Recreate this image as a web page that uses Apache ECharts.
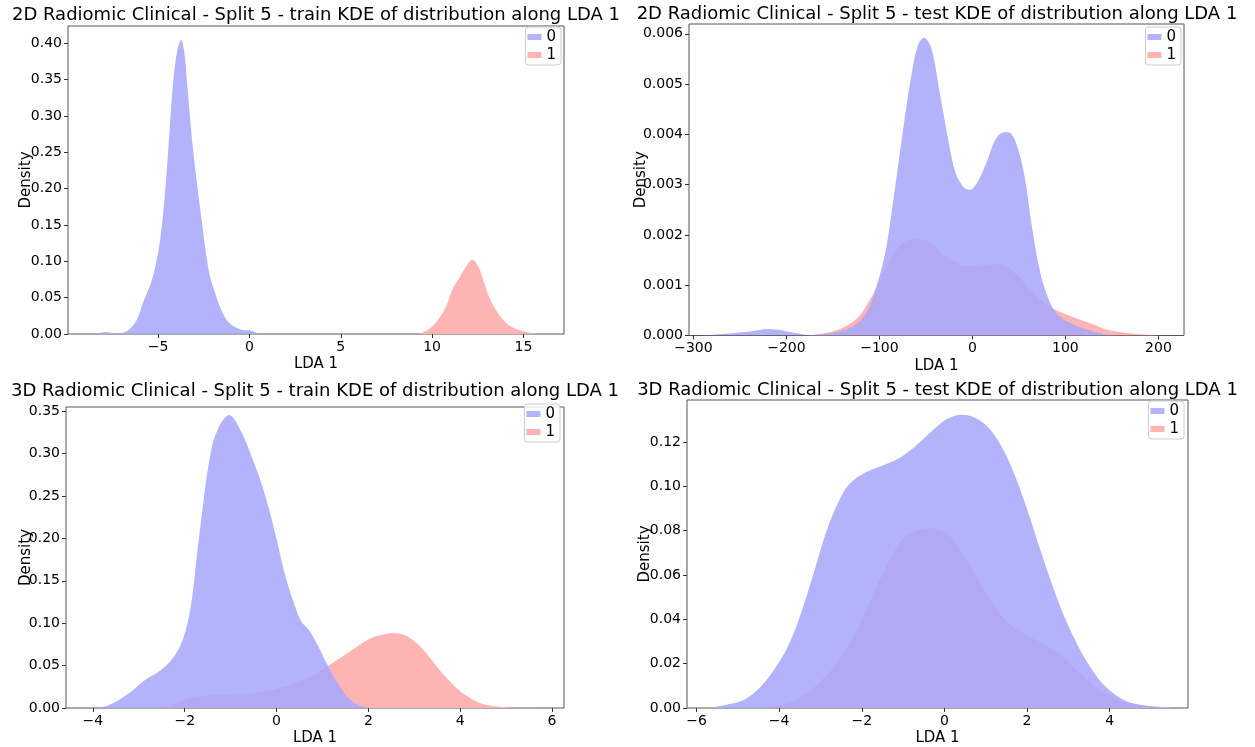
<!DOCTYPE html>
<html><head><meta charset="utf-8">
<script src="https://cdn.jsdelivr.net/npm/echarts@6/dist/echarts.min.js"></script>
<style>html,body{margin:0;padding:0;background:#fff}#c{width:1255px;height:747px}</style>
</head><body><div id="c"></div>
<script>
// ---- Titles / labels ----
const titles = [
  '2D Radiomic Clinical - Split 5 - train KDE of distribution along LDA 1',
  '2D Radiomic Clinical - Split 5 - test KDE of distribution along LDA 1',
  '3D Radiomic Clinical - Split 5 - train KDE of distribution along LDA 1',
  '3D Radiomic Clinical - Split 5 - test KDE of distribution along LDA 1'
];
const classNames = ['0', '1'];

// ---- Tick values ----
const p1_xticks = [-5, 0, 5, 10, 15];
const p1_yticks = [0, 0.05, 0.10, 0.15, 0.20, 0.25, 0.30, 0.35, 0.40];
const p2_xticks = [-300, -200, -100, 0, 100, 200];
const p2_yticks = [0, 0.001, 0.002, 0.003, 0.004, 0.005, 0.006];
const p3_xticks = [-4, -2, 0, 2, 4, 6];
const p3_yticks = [0, 0.05, 0.10, 0.15, 0.20, 0.25, 0.30, 0.35];
const p4_xticks = [-6, -4, -2, 0, 2, 4];
const p4_yticks = [0, 0.02, 0.04, 0.06, 0.08, 0.10, 0.12];

// ---- Panel 1: 2D train ----
const p1_x0 = [-8.6, -8.2, -7.9, -7.5, -7.1, -6.6, -6.16, -5.83, -5.28, -4.84, -4.51, -4.18, -3.95, -3.74, -3.55, -3.41, -3.08, -2.64, -2.2, -1.87, -1.54, -1.1, -0.44, 0, 0.44, 0.8];
const p1_y0 = [0, 0.001, 0.0027, 0.0015, 0.001, 0.006, 0.0197, 0.0426, 0.079, 0.139, 0.230, 0.345, 0.39, 0.4045, 0.385, 0.345, 0.253, 0.162, 0.084, 0.056, 0.033, 0.015, 0.006, 0.005, 0.0015, 0];
const p1_x1 = [9.3, 9.89, 10.33, 10.77, 11.1, 11.43, 11.87, 12.2, 12.53, 12.86, 13.19, 13.74, 14.29, 14.95, 15.7];
const p1_y1 = [0, 0.008, 0.0197, 0.038, 0.061, 0.0746, 0.093, 0.102, 0.093, 0.070, 0.047, 0.024, 0.0105, 0.004, 0];

// ---- Panel 2: 2D test ----
const p2_x0 = [-290, -244, -218, -193, -175, -158, -132, -115, -102, -93, -85, -76, -67, -59, -52, -44, -35, -26, -18, -9, -2.5, 6, 15, 23, 32, 38.5, 47, 56, 64, 73, 82, 90, 101, 123, 144, 165];
const p2_y0 = [0, 0.00007, 0.00013, 0.00006, 0.00001, 0.00003, 0.00015, 0.00042, 0.00105, 0.00171, 0.0027, 0.0039, 0.00502, 0.00575, 0.00592, 0.0057, 0.00482, 0.0039, 0.00323, 0.00294, 0.0029, 0.00307, 0.00343, 0.00383, 0.00403, 0.00404, 0.00383, 0.00317, 0.00217, 0.00125, 0.00072, 0.00045, 0.00029, 0.00012, 0.00002, 0];
const p2_x1 = [-178, -158, -141, -123, -110, -97.5, -84.6, -71.6, -58.6, -45.7, -32.7, -19.8, -6.8, 6.1, 23.4, 36.3, 49.3, 62.3, 75.3, 88.2, 101, 118, 131, 144, 166, 192, 205];
const p2_y1 = [0, 0.00005, 0.00014, 0.00036, 0.00072, 0.00115, 0.00162, 0.00188, 0.00192, 0.00185, 0.00164, 0.00148, 0.00138, 0.00138, 0.00142, 0.00138, 0.00118, 0.00091, 0.00068, 0.00052, 0.00042, 0.0003, 0.00022, 0.00012, 0.00005, 0.00001, 0];

// ---- Panel 3: 3D train ----
const p3_x0 = [-4.02, -3.67, -3.23, -2.88, -2.53, -2.27, -2.05, -1.87, -1.74, -1.61, -1.48, -1.31, -1.03, -0.78, -0.56, -0.35, -0.17, 0.01, 0.18, 0.36, 0.53, 0.71, 0.88, 1.06, 1.23, 1.41, 1.58, 1.8, 2.05];
const p3_y0 = [0, 0.003, 0.0168, 0.0325, 0.0442, 0.058, 0.0795, 0.119, 0.178, 0.236, 0.287, 0.325, 0.3455, 0.327, 0.299, 0.268, 0.236, 0.197, 0.158, 0.1266, 0.103, 0.0915, 0.0757, 0.056, 0.0384, 0.0227, 0.011, 0.003, 0];
const p3_x1 = [-2.75, -2.36, -1.92, -1.48, -1.05, -0.61, -0.17, 0.27, 0.71, 1.14, 1.58, 2.02, 2.37, 2.59, 2.81, 3.07, 3.33, 3.59, 3.86, 4.12, 4.47, 4.91, 5.52, 6.0];
const p3_y1 = [0, 0.003, 0.011, 0.0149, 0.016, 0.0174, 0.0207, 0.0266, 0.0364, 0.0502, 0.0659, 0.0815, 0.0874, 0.0882, 0.0855, 0.0757, 0.06, 0.0423, 0.0266, 0.0149, 0.005, 0.0013, 0.0002, 0];

// ---- Panel 4: 3D test ----
const p4_x0 = [-5.69, -5.2, -4.82, -4.43, -4.04, -3.75, -3.46, -3.16, -2.87, -2.58, -2.29, -1.9, -1.51, -1.13, -0.74, -0.35, 0.04, 0.43, 0.82, 1.2, 1.59, 1.98, 2.37, 2.76, 3.14, 3.54, 3.92, 4.41, 4.89, 5.28, 5.4];
const p4_y0 = [0, 0.0018, 0.004, 0.0099, 0.0196, 0.0292, 0.0433, 0.0611, 0.0789, 0.0923, 0.1012, 0.1063, 0.1093, 0.1123, 0.1175, 0.1241, 0.1301, 0.1323, 0.1301, 0.1234, 0.110, 0.0908, 0.0685, 0.0478, 0.0314, 0.0181, 0.0092, 0.003, 0.001, 0.0003, 0];
const p4_x1 = [-4.53, -4.04, -3.55, -3.07, -2.58, -2.1, -1.71, -1.32, -0.93, -0.35, 0.04, 0.43, 0.82, 1.2, 1.59, 1.98, 2.37, 2.76, 3.14, 3.54, 3.92, 4.41, 4.89, 5.38, 5.5];
const p4_y1 = [0, 0.001, 0.004, 0.0107, 0.0211, 0.0359, 0.0522, 0.067, 0.0774, 0.0811, 0.0789, 0.070, 0.0581, 0.0463, 0.0374, 0.0329, 0.0292, 0.0248, 0.0181, 0.0114, 0.0062, 0.0025, 0.001, 0.0003, 0];

// ---- Build chart ----
const FONT = 'DejaVu Sans';
const RED = '#ffb4b4';
const BLUE_FILL = 'rgba(168,168,251,0.87)';
const BLUE_LEG = '#b4b4fc';
const zip = (xs, ys) => xs.map((x, i) => [x, ys[i]]);
const minus = s => String(s).replace('-', '\u2212');

const panels = [
  {grid:{left:68, top:26, width:496, height:308}, xr:[-9.93, 17.22], yr:[0, 0.4238], xt:p1_xticks, yt:p1_yticks, yd:2,
   title:[316, 15.5], legend:{right:694, top:27}, yGap:34, d:[p1_x0,p1_y0,p1_x1,p1_y1]},
  {grid:{left:689, top:24, width:495, height:311.5}, xr:[-304.7, 227.5], yr:[0, 0.006195], xt:p2_xticks, yt:p2_yticks, yd:3,
   title:[937, 14], legend:{right:74, top:27}, yGap:40, d:[p2_x0,p2_y0,p2_x1,p2_y1]},
  {grid:{left:66, top:407, width:498, height:302}, xr:[-4.586, 6.26], yr:[0, 0.355], xt:p3_xticks, yt:p3_yticks, yd:2,
   title:[315, 391.5], legend:{right:695, top:404}, yGap:32, d:[p3_x0,p3_y0,p3_x1,p3_y1]},
  {grid:{left:687, top:400, width:501, height:312}, xr:[-6.23, 5.895], yr:[0, 0.1389], xt:p4_xticks, yt:p4_yticks, yd:2,
   title:[937.5, 390], legend:{right:71, top:401}, yGap:34.5, d:[p4_x0,p4_y0,p4_x1,p4_y1]}
];

const option = {
  animation: false,
  backgroundColor: '#fff',
  textStyle: {fontFamily: FONT},
  title: [], grid: [], xAxis: [], yAxis: [], legend: [], series: []
};

panels.forEach((p, i) => {
  option.title.push({
    text: titles[i], left: p.title[0], top: p.title[1], padding: 0,
    textAlign: 'center', textVerticalAlign: 'middle',
    textStyle: {fontSize: 18, fontWeight: 'normal', color: '#000', fontFamily: FONT}
  });
  option.grid.push(Object.assign({show: true, borderColor: '#555', borderWidth: 1, backgroundColor: 'transparent', containLabel: false}, p.grid));
  option.xAxis.push({
    type: 'value', gridIndex: i, min: p.xr[0], max: p.xr[1], position: 'bottom',
    axisLine: {show: false, onZero: false},
    axisTick: {show: true, length: 4, customValues: p.xt, lineStyle: {color: '#333'}},
    axisLabel: {customValues: p.xt, formatter: v => minus(v), fontSize: 14, color: '#000', margin: 6, fontFamily: FONT},
    splitLine: {show: false},
    name: 'LDA 1', nameLocation: 'middle', nameGap: 23, nameMoveOverlap: false,
    nameTextStyle: {fontSize: 15, color: '#000', fontFamily: FONT}
  });
  option.yAxis.push({
    type: 'value', gridIndex: i, min: p.yr[0], max: p.yr[1], position: 'left',
    axisLine: {show: false, onZero: false},
    axisTick: {show: true, length: 4, customValues: p.yt, lineStyle: {color: '#333'}},
    axisLabel: {customValues: p.yt, formatter: v => Number(v).toFixed(p.yd), fontSize: 14, color: '#000', margin: 6, fontFamily: FONT},
    splitLine: {show: false},
    name: 'Density', nameLocation: 'middle', nameGap: p.yGap, nameMoveOverlap: false,
    nameTextStyle: {fontSize: 15, color: '#000', fontFamily: FONT}
  });
  option.legend.push({
    data: [
      {name: classNames[0], icon: 'rect', itemStyle: {color: BLUE_LEG}},
      {name: classNames[1], icon: 'rect', itemStyle: {color: RED}}
    ],
    orient: 'vertical', right: p.legend.right, top: p.legend.top,
    itemWidth: 14, itemHeight: 6, itemGap: 2, padding: [2, 5, 2, 2],
    borderColor: '#cccccc', borderWidth: 1, borderRadius: 3, backgroundColor: 'rgba(255,255,255,0.85)',
    selectedMode: false,
    textStyle: {fontSize: 15, color: '#000', lineHeight: 16, fontFamily: FONT}
  });
  // class 1 (red) underneath
  option.series.push({
    name: classNames[1], type: 'line', xAxisIndex: i, yAxisIndex: i,
    data: zip(p.d[2], p.d[3]), smooth: 0.35, showSymbol: false, silent: true,
    lineStyle: {width: 0}, itemStyle: {color: RED},
    areaStyle: {color: RED, opacity: 1}
  });
  // class 0 (blue) on top
  option.series.push({
    name: classNames[0], type: 'line', xAxisIndex: i, yAxisIndex: i,
    data: zip(p.d[0], p.d[1]), smooth: 0.35, showSymbol: false, silent: true,
    lineStyle: {width: 0}, itemStyle: {color: BLUE_LEG},
    areaStyle: {color: BLUE_FILL, opacity: 1}
  });
});

const chart = echarts.init(document.getElementById('c'), null, {renderer: 'canvas'});
chart.setOption(option);
</script>
</body></html>
